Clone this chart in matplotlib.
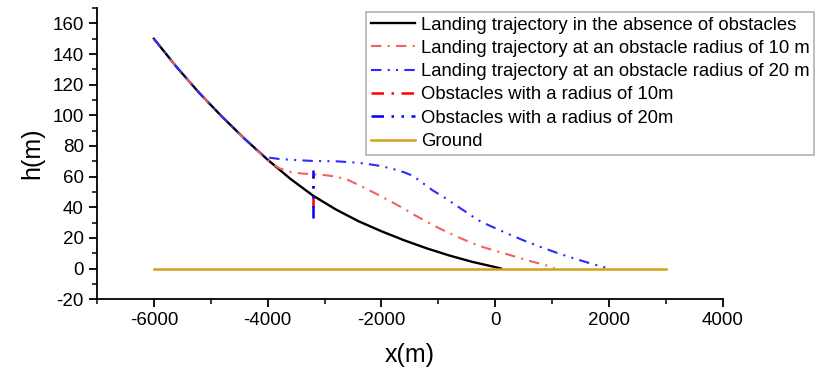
import matplotlib
matplotlib.use("Agg")
import matplotlib.pyplot as plt
from matplotlib.ticker import MultipleLocator

plt.rcParams['font.family'] = ['Liberation Sans', 'DejaVu Sans']
plt.rcParams['axes.unicode_minus'] = False

# Trajectory without obstacles
x_free = [-6000, -5600, -5200, -4800, -4400, -4000, -3600, -3200, -2800, -2400,
          -2000, -1600, -1200, -800, -400, 0, 100]
h_free = [150, 131.5, 114.5, 99, 84.5, 71, 58.5, 47.5, 38.5, 30.8,
          24.3, 18.4, 13.1, 8.4, 4.3, 0.9, 0]

# Trajectory with 10 m obstacle
x_r10 = [-6000, -5600, -5200, -4800, -4400, -4000, -3800, -3600, -3400, -3200,
         -3000, -2800, -2600, -2400, -2200, -2000, -1800, -1600, -1400, -1200,
         -1000, -800, -600, -400, -200, 0, 200, 400, 600, 800, 1000, 1040]
h_r10 = [150, 131.5, 114.5, 99, 84.5, 70.5, 65.5, 63, 62, 61.5,
         61, 60, 58, 54.5, 50.8, 47, 43, 39, 34.5, 30.5,
         26.5, 23, 19.6, 16.5, 13.8, 11.5, 9.4, 7.2, 5.0, 3.0, 1.0, 0.3]

# Trajectory with 20 m obstacle
x_r20 = [-6000, -5600, -5200, -4800, -4400, -4130, -4000, -3800, -3600, -3200,
         -2800, -2400, -2200, -2000, -1800, -1600, -1450, -1300, -1100, -900,
         -700, -500, -300, -100, 200, 500, 800, 1100, 1400, 1700, 1900, 2000]
h_r20 = [150, 131.5, 114.5, 99, 84.5, 75, 72.5, 71.5, 71, 70.2,
         70, 69, 68, 66.8, 65, 62.8, 60.5, 56.5, 51, 46.5,
         41.5, 36.5, 31.5, 28, 23, 18.3, 14, 10, 6.4, 3, 1, 0]

# Obstacles (vertical extent at x = -3200)
x_obs10 = [-3200, -3200]
h_obs10 = [39.5, 61]
x_obs20 = [-3200, -3200]
h_obs20 = [33, 64]

# Ground
x_ground = [-6000, 3000]
h_ground = [0, 0]

fig = plt.figure(figsize=(8.15, 3.85), dpi=100)
ax = fig.add_axes([0.119, 0.223, 0.768, 0.756])

ax.plot(x_free, h_free, color='black', lw=1.7,
        label='Landing trajectory in the absence of obstacles')
ax.plot(x_r10, h_r10, color='#f46060', lw=1.5, linestyle=(0, (5, 3, 1, 3)),
        label='Landing trajectory at an obstacle radius of 10 m')
ax.plot(x_r20, h_r20, color='#2b2bff', lw=1.5, linestyle=(0, (5, 3, 1, 3, 1, 3)),
        label='Landing trajectory at an obstacle radius of 20 m')
ax.plot(x_obs10, h_obs10, color='#ff0000', lw=1.8, linestyle=(0, (5, 3, 1, 3)),
        label='Obstacles with a radius of 10m')
ax.plot(x_obs20, h_obs20, color='#0000ff', lw=1.8, linestyle=(0, (5, 3, 1, 3, 1, 3)),
        label='Obstacles with a radius of 20m')
ax.plot(x_ground, h_ground, color='#d4a017', lw=1.8, label='Ground')

ax.set_xlim(-7000, 4000)
ax.set_ylim(-20, 170)
ax.set_xticks([-6000, -4000, -2000, 0, 2000, 4000])
ax.set_yticks(list(range(-20, 161, 20)))
ax.xaxis.set_minor_locator(MultipleLocator(1000))
ax.yaxis.set_minor_locator(MultipleLocator(10))

for s in ['top', 'right']:
    ax.spines[s].set_visible(False)
for s in ['left', 'bottom']:
    ax.spines[s].set_linewidth(1.3)

ax.tick_params(which='major', direction='out', length=6, width=1.3, labelsize=13.5)
ax.tick_params(which='minor', direction='out', length=3.5, width=1.1)

ax.set_xlabel('x(m)', fontsize=18, labelpad=10)
ax.set_ylabel('h(m)', fontsize=18, labelpad=6)

leg = fig.legend(loc='upper right', bbox_to_anchor=(814 / 815, 1 - 12 / 385),
                 fontsize=13.3, frameon=True, fancybox=False, borderaxespad=0,
                 handlelength=2.4, handletextpad=0.3, labelspacing=0.34,
                 borderpad=0.25)
leg.get_frame().set_edgecolor('#a0a0a0')
leg.get_frame().set_linewidth(1.2)

fig.savefig('out.png', dpi=100)
